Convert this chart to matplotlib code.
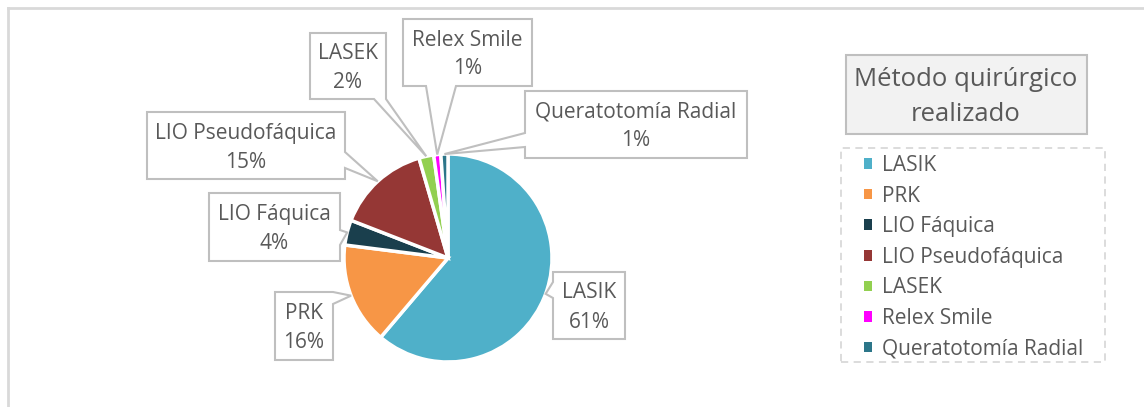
import matplotlib.pyplot as plt
import numpy as np
from matplotlib.patches import Polygon, Rectangle, Patch

plt.rcParams['font.family'] = ['Open Sans', 'DejaVu Sans']

# datos
metodos = ["LASIK", "PRK", "LIO Fáquica", "LIO Pseudofáquica", "LASEK",
           "Relex Smile", "Queratotomía Radial"]
porcentajes = [61.2, 15.8, 3.9, 14.6, 2.3, 1.1, 1.1]
colores = ["#4fb0c9", "#f79646", "#1a3f4d", "#953735", "#92d050",
           "#ff00ff", "#2c7689"]

W, H = 1144, 407
gris = "#595959"
borde = "#bfbfbf"
fs = 15

# cajas de etiquetas (px de imagen): x0, y0, x1, y1, lado, base0, base1
cajas = {
    "LASIK": (553, 272, 625, 339, "left", 282, 298),
    "PRK": (275, 292, 333, 360, "right", 292, 304),
    "LIO Fáquica": (209, 193, 340, 261, "right", 230, 245),
    "LIO Pseudofáquica": (147, 112, 345, 179, "right", 152, 168),
    "LASEK": (310, 33, 386, 99, "bottom", 374, 386),
    "Relex Smile": (403, 19, 532, 86, "bottom", 426, 456),
    "Queratotomía Radial": (525, 91, 747, 158, "left", 133, 147),
}

def callout(ax, caja, tip):
    x0, y0, x1, y1, lado, b0, b1 = caja
    tl, tr, br, bl = (x0, y0), (x1, y0), (x1, y1), (x0, y1)
    if lado == "top":
        pts = [tl, (b0, y0), tip, (b1, y0), tr, br, bl]
    elif lado == "right":
        pts = [tl, tr, (x1, b0), tip, (x1, b1), br, bl]
    elif lado == "bottom":
        pts = [tl, tr, br, (b1, y1), tip, (b0, y1), bl]
    else:
        pts = [tl, tr, br, bl, (x0, b1), tip, (x0, b0)]
    pts = [(px, H - py) for px, py in pts]
    ax.add_patch(Polygon(pts, closed=True, facecolor="white", edgecolor=borde,
                         linewidth=1.5, zorder=5))

fig = plt.figure(figsize=(W / 100, H / 100), dpi=100)
ax = fig.add_axes([0, 0, 1, 1])

cx, cy, r = 448, H - 258, 104
wedges, _ = ax.pie(porcentajes, colors=colores, startangle=90, counterclock=False,
                   center=(cx, cy), radius=r,
                   wedgeprops=dict(edgecolor="white", linewidth=2.5))

total = sum(porcentajes)
for w, nombre, v in zip(wedges, metodos, porcentajes):
    ang = np.radians((w.theta1 + w.theta2) / 2)
    tx, ty = cx + r * np.cos(ang), cy + r * np.sin(ang)
    caja = cajas[nombre]
    callout(ax, caja, (tx, H - ty))
    xm = (caja[0] + caja[2]) / 2
    ym = (caja[1] + caja[3]) / 2
    ax.text(xm, H - ym - 2, f"{nombre}\n{v / total * 100:.0f}%", ha="center", va="center",
            fontsize=fs, color=gris, linespacing=1.5, zorder=6)

# marco exterior
ax.plot([8, W], [H - 8, H - 8], color="#d9d9d9", lw=2)
ax.plot([8, 8], [H - 8, 0], color="#d9d9d9", lw=2)

# leyenda
ax.add_patch(Rectangle((846, H - 134), 241, 79, facecolor="#f2f2f2",
                       edgecolor=borde, lw=1.5))
ax.text(966, H - 97, "Método quirúrgico\nrealizado", ha="center", va="center",
        fontsize=18.5, color=gris, linespacing=1.5)
ax.add_patch(Rectangle((841, H - 362), 264, 214, facecolor="none",
                       edgecolor="#d9d9d9", lw=1.3, linestyle=(0, (4, 3))))
handles = [Patch(facecolor=c, edgecolor="none") for c in colores]
leg = ax.legend(handles, metodos, loc="upper left", bbox_to_anchor=(864, H - 155),
                bbox_transform=ax.transData, frameon=False, fontsize=fs,
                handlelength=0.4, handleheight=0.4, handletextpad=0.45,
                labelspacing=0.46, borderpad=0, borderaxespad=0)
for t in leg.get_texts():
    t.set_color(gris)

ax.set_xlim(0, W)
ax.set_ylim(0, H)
ax.set_aspect("equal")
ax.axis("off")

fig.savefig("out.png", dpi=100)
